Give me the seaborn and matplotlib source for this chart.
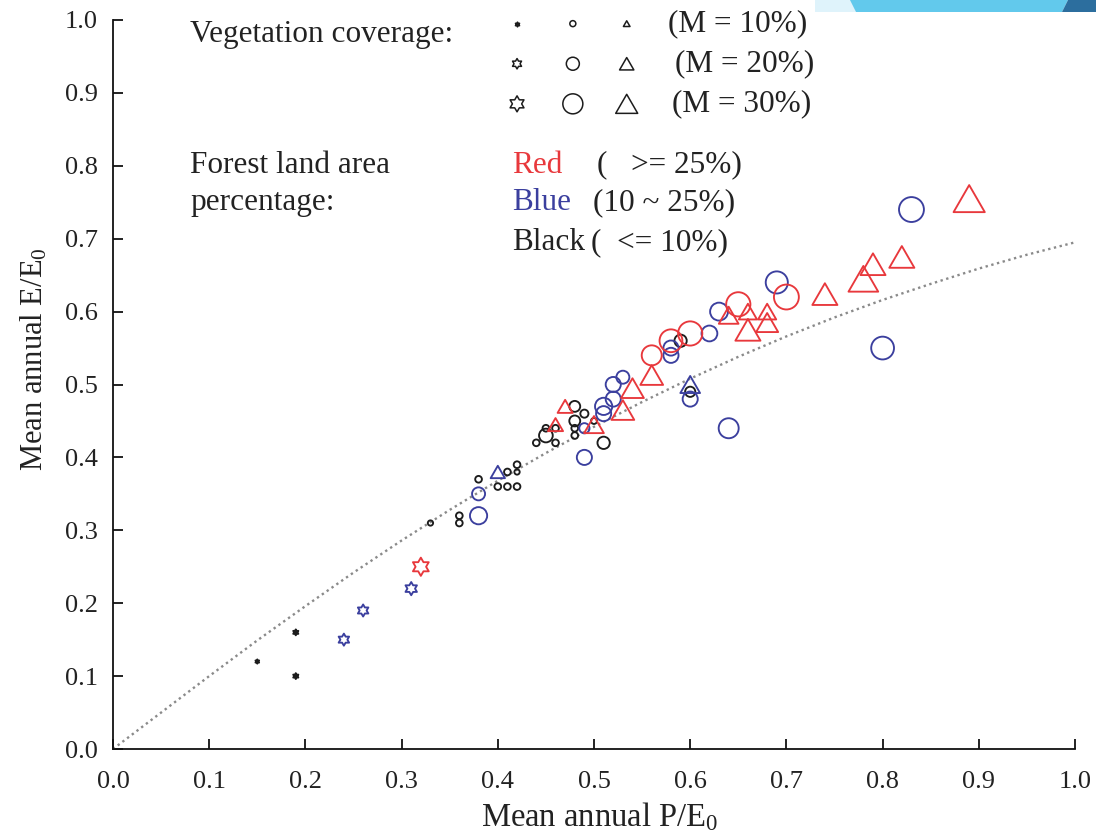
import numpy as np
import pandas as pd
import matplotlib
matplotlib.use("Agg")
import matplotlib.pyplot as plt
import seaborn as sns
from matplotlib.path import Path
from matplotlib.patches import Polygon

# ---------------- data ----------------
# Reference dotted curve
curve_x = [0.0, 0.05, 0.1, 0.15, 0.2, 0.25, 0.3, 0.35, 0.4, 0.45, 0.5,
           0.55, 0.6, 0.65, 0.7, 0.75, 0.8, 0.85, 0.9, 0.95, 1.0]
curve_y = [0.0, 0.050, 0.100, 0.149, 0.196, 0.242, 0.286, 0.328, 0.368, 0.406, 0.442,
           0.476, 0.508, 0.538, 0.566, 0.592, 0.616, 0.638, 0.659, 0.678, 0.695]

# Black (forest <= 10%)
black_star_x = [0.15, 0.19, 0.19]
black_star_y = [0.12, 0.16, 0.10]
black_star_m = [9, 12, 12]

black_circle_x = [0.33, 0.36, 0.36, 0.38, 0.40, 0.41, 0.42, 0.41, 0.42, 0.42, 0.44, 0.45, 0.46,
                  0.45, 0.46, 0.48, 0.49, 0.48, 0.48, 0.48, 0.50, 0.51, 0.59, 0.60]
black_circle_y = [0.31, 0.32, 0.31, 0.37, 0.36, 0.36, 0.36, 0.38, 0.39, 0.38, 0.42, 0.44, 0.44,
                  0.43, 0.42, 0.47, 0.46, 0.45, 0.44, 0.43, 0.45, 0.42, 0.56, 0.49]
black_circle_m = [9, 11, 11, 11, 11, 11, 11, 11, 11, 9, 11, 11, 11,
                  21, 11, 17, 13, 17, 11, 11, 10, 19, 19, 16]

# Blue (forest 10 ~ 25%)
blue_star_x = [0.24, 0.26, 0.31]
blue_star_y = [0.15, 0.19, 0.22]
blue_star_m = [23, 23, 25]

blue_circle_x = [0.38, 0.38, 0.49, 0.49, 0.51, 0.51, 0.52, 0.52, 0.53, 0.58, 0.58, 0.60,
                 0.62, 0.63, 0.64, 0.69, 0.80, 0.83]
blue_circle_y = [0.35, 0.32, 0.40, 0.44, 0.47, 0.46, 0.48, 0.50, 0.51, 0.55, 0.54, 0.48,
                 0.57, 0.60, 0.44, 0.64, 0.55, 0.74]
blue_circle_m = [20, 26, 23, 16, 26, 23, 23, 23, 20, 23, 23, 23,
                 24, 27, 30, 33, 34, 37]

blue_tri_x = [0.40, 0.60]
blue_tri_y = [0.38, 0.50]
blue_tri_m = [20, 27]

# Red (forest >= 25%)
red_star_x = [0.32]
red_star_y = [0.25]
red_star_m = [34]

red_circle_x = [0.56, 0.58, 0.60, 0.65, 0.70]
red_circle_y = [0.54, 0.56, 0.57, 0.61, 0.62]
red_circle_m = [30, 34, 36, 36, 37]

red_tri_x = [0.46, 0.47, 0.50, 0.53, 0.54, 0.56, 0.64, 0.66, 0.68, 0.66, 0.68, 0.74, 0.78, 0.79, 0.82, 0.89]
red_tri_y = [0.445, 0.47, 0.445, 0.465, 0.495, 0.513, 0.595, 0.60, 0.60, 0.575, 0.585, 0.624, 0.645, 0.665, 0.675, 0.755]
red_tri_m = [21, 21, 27, 31, 31, 31, 27, 25, 25, 34, 30, 34, 40, 34, 34, 42]

tick_vals = [0.0, 0.1, 0.2, 0.3, 0.4, 0.5, 0.6, 0.7, 0.8, 0.9, 1.0]
tick_labels = ["0.0", "0.1", "0.2", "0.3", "0.4", "0.5", "0.6", "0.7", "0.8", "0.9", "1.0"]

# ---------------- build table ----------------
groups = [
    ("Black", "star", black_star_x, black_star_y, black_star_m),
    ("Black", "circle", black_circle_x, black_circle_y, black_circle_m),
    ("Blue", "star", blue_star_x, blue_star_y, blue_star_m),
    ("Blue", "circle", blue_circle_x, blue_circle_y, blue_circle_m),
    ("Blue", "triangle", blue_tri_x, blue_tri_y, blue_tri_m),
    ("Red", "star", red_star_x, red_star_y, red_star_m),
    ("Red", "circle", red_circle_x, red_circle_y, red_circle_m),
    ("Red", "triangle", red_tri_x, red_tri_y, red_tri_m),
]
rows = []
for forest, shape, xs, ys, ms in groups:
    for x, y, m in zip(xs, ys, ms):
        rows.append(dict(x=x, y=y, M=m, forest=forest, shape=shape))
df = pd.DataFrame(rows)

# ---------------- styles ----------------
RED = "#e8383c"
BLUE = "#3b3f9e"
BLACK = "#1c1c1c"
TXT = "#222222"
palette = {"Red": RED, "Blue": BLUE, "Black": BLACK}

# hexagram (star of David outline)
ang_o = np.deg2rad(90 + 60 * np.arange(6))
ang_i = np.deg2rad(120 + 60 * np.arange(6))
r_in = 1 / np.sqrt(3)
hv = []
for ao, ai in zip(ang_o, ang_i):
    hv.append((np.cos(ao), np.sin(ao)))
    hv.append((r_in * np.cos(ai), r_in * np.sin(ai)))
hv.append(hv[0])
hexagram = Path(hv, [Path.MOVETO] + [Path.LINETO] * 11 + [Path.CLOSEPOLY])
tri = Path([(0, 0.433), (-0.5, -0.433), (0.5, -0.433), (0, 0.433)],
           [Path.MOVETO, Path.LINETO, Path.LINETO, Path.CLOSEPOLY])
markers = {"star": hexagram, "circle": "o", "triangle": tri}
shape_factor = {"star": 0.8, "circle": 1.0, "triangle": 1.1}


def marker_area(m, shape):
    d_px = shape_factor[shape] * (0.7 * m - 1)
    return (d_px * 0.72) ** 2


sizes = np.array([marker_area(m, s) for m, s in zip(df["M"], df["shape"])])

# ---------------- figure ----------------
sns.set_style("ticks")
plt.rcParams["font.family"] = ["Liberation Serif", "DejaVu Serif"]
plt.rcParams["mathtext.fontset"] = "custom"
plt.rcParams["mathtext.rm"] = "Liberation Serif"
plt.rcParams["mathtext.it"] = "Liberation Serif:italic"

fig = plt.figure(figsize=(10.96, 8.34), dpi=100)
ax = fig.add_axes([113 / 1096, 85 / 834, 962 / 1096, 729 / 834])

sns.lineplot(x=curve_x, y=curve_y, ax=ax, color="#8a8a8a", linestyle=(0, (1, 1.5)),
             linewidth=1.7, zorder=2)

sns.scatterplot(data=df, x="x", y="y", hue="forest", style="shape", markers=markers,
                palette=palette, s=sizes, linewidth=1.35, legend=False, ax=ax, zorder=3)
coll = ax.collections[-1]
fc = np.array(coll.get_facecolors())
coll.set_edgecolors(fc)
filled = ((df["shape"] == "star") & (df["M"] < 15)).to_numpy()
new_fc = fc.copy()
new_fc[~filled, 3] = 0.0
coll.set_facecolors(new_fc)

# ---------------- axes styling ----------------
ax.set_xlim(0, 1)
ax.set_ylim(0, 1)
ax.set_xticks(tick_vals)
ax.set_xticklabels(tick_labels)
ax.set_yticks(tick_vals)
ax.set_yticklabels(tick_labels)
for s in ["top", "right"]:
    ax.spines[s].set_visible(False)
for s in ["left", "bottom"]:
    ax.spines[s].set_linewidth(1.3)
    ax.spines[s].set_color("#111111")
ax.tick_params(direction="in", length=7, width=1.3, labelsize=19, colors="#111111",
               labelcolor=TXT)
ax.tick_params(axis="x", pad=16)
ax.tick_params(axis="y", pad=11)

ax.set_xlabel(r"Mean annual P/E$_\mathrm{0}$", fontsize=23.5, color=TXT)
ax.set_ylabel(r"Mean annual E/E$_\mathrm{0}$", fontsize=22, color=TXT)
ax.xaxis.set_label_coords(0.506, -0.070)
ax.yaxis.set_label_coords(-0.066, 0.535)

# ---------------- custom legend ----------------
tf = ax.transAxes
fs = 22.5
ax.text(0.080, 0.980, "Vegetation coverage:", transform=tf, fontsize=fs, va="center", ha="left", color=TXT)
leg_rows_y = [0.995, 0.940, 0.885]
leg_m = [10, 20, 30]
leg_text = ["(M = 10%)", "(M = 20%)", "(M = 30%)"]
leg_text_x = [0.577, 0.584, 0.581]
col_x = {"star": 0.420, "circle": 0.478, "triangle": 0.534}
for yy, m, t, tx in zip(leg_rows_y, leg_m, leg_text, leg_text_x):
    for shp in ["star", "circle", "triangle"]:
        fcol = BLACK if (shp == "star" and m == 10) else "none"
        ax.scatter([col_x[shp]], [yy], marker=markers[shp], s=marker_area(m, shp),
                   facecolors=fcol, edgecolors=BLACK, linewidths=1.1, transform=tf,
                   clip_on=False, zorder=4)
    ax.text(tx, yy, t, transform=tf, fontsize=fs, va="center", ha="left", color=TXT)

ax.text(0.080, 0.801, "Forest land area", transform=tf, fontsize=fs, va="center", ha="left", color=TXT)
ax.text(0.080, 0.750, "percentage:", transform=tf, fontsize=fs, va="center", ha="left", color=TXT)
ax.text(0.415, 0.801, "Red", transform=tf, fontsize=fs, va="center", ha="left", color=RED)
ax.text(0.503, 0.801, "(   >= 25%)", transform=tf, fontsize=fs, va="center", ha="left", color=TXT)
ax.text(0.415, 0.749, "Blue", transform=tf, fontsize=fs, va="center", ha="left", color=BLUE)
ax.text(0.499, 0.749, "(10 ~ 25%)", transform=tf, fontsize=fs, va="center", ha="left", color=TXT)
ax.text(0.415, 0.695, "Black", transform=tf, fontsize=fs, va="center", ha="left", color=TXT)
ax.text(0.497, 0.695, "(  <= 10%)", transform=tf, fontsize=fs, va="center", ha="left", color=TXT)

# decorative band at top-right of the slide
H = 834.0
W = 1096.0
def fpoly(pts, color):
    fig.patches.append(Polygon([(x / W, 1 - y / H) for x, y in pts], closed=True,
                               transform=fig.transFigure, facecolor=color, edgecolor="none",
                               zorder=0))
fpoly([(815, 0), (852, 0), (856, 12), (815, 12)], "#dff3fb")
fpoly([(850, 0), (1068, 0), (1062, 12), (856, 12)], "#62c9ec")
fpoly([(1068, 0), (1096, 0), (1096, 12), (1062, 12)], "#2c6e9e")

fig.savefig("out.png", dpi=100)
